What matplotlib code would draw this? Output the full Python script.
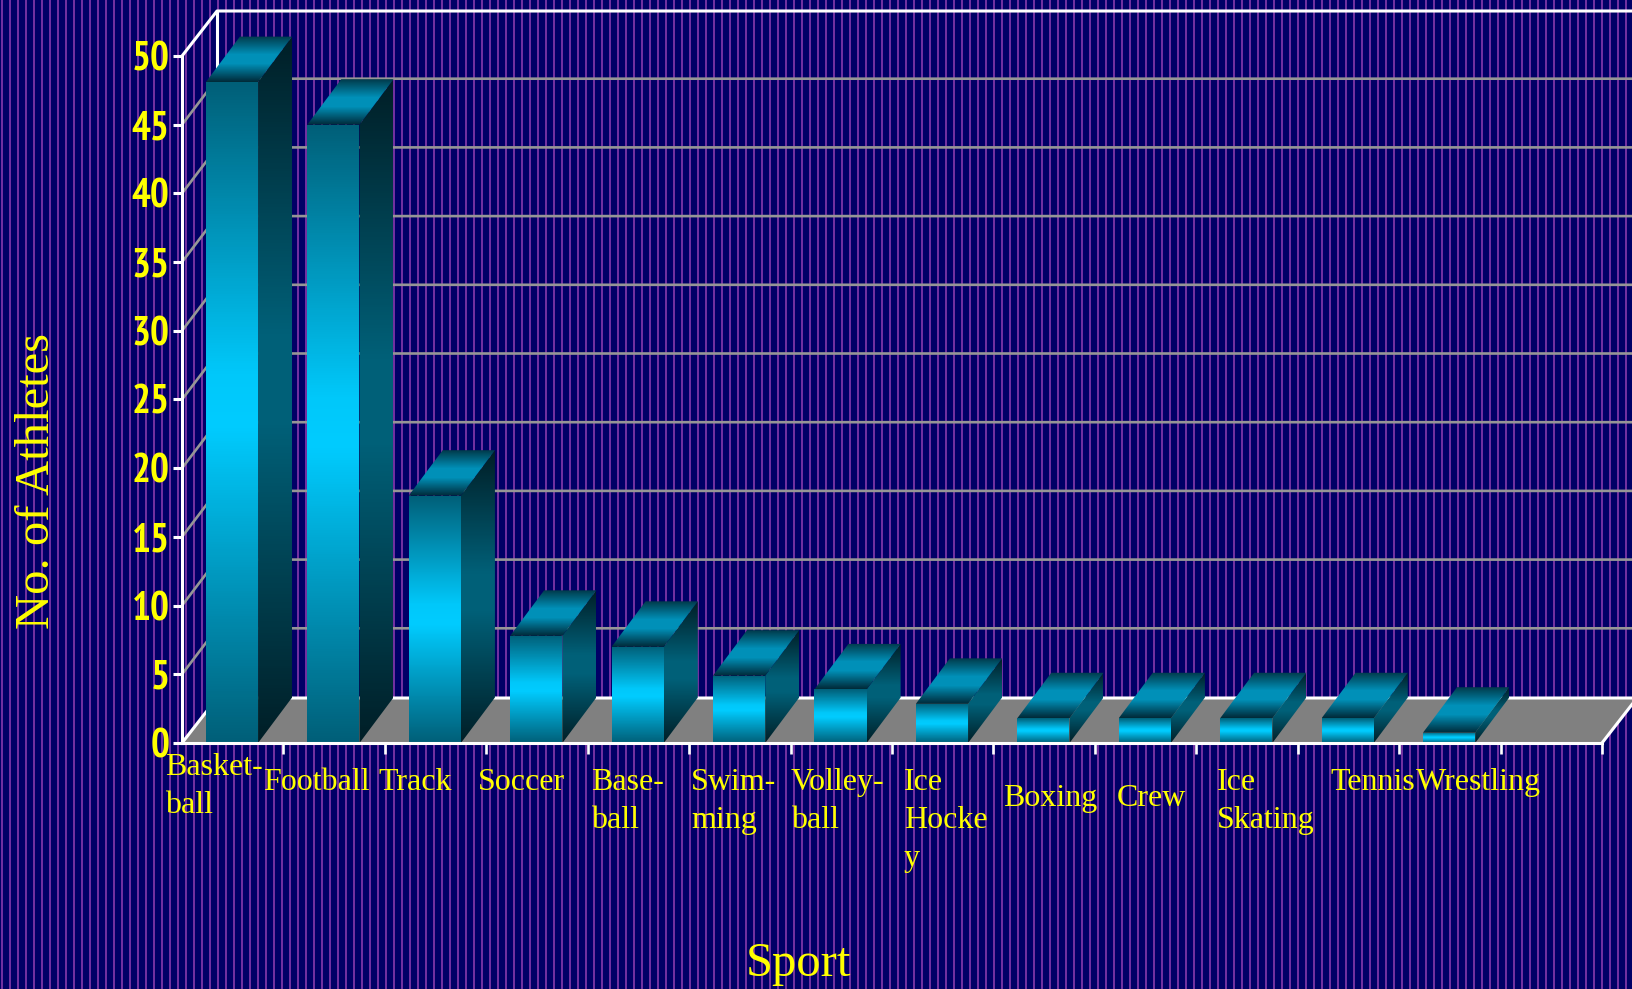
import numpy as np
import matplotlib
matplotlib.use('Agg')
import matplotlib.pyplot as plt
from matplotlib.colors import LinearSegmentedColormap
from matplotlib.patches import Polygon

W, H = 1633, 989

sports = ['Basket-\nball', 'Football', 'Track', 'Soccer', 'Base-\nball', 'Swim-\nming', 'Volley-\nball',
          'Ice\nHocke\ny', 'Boxing', 'Crew', 'Ice\nSkating', 'Tennis', 'Wrestling']
athletes = [48.1, 45.0, 18, 7.8, 7, 4.9, 3.9, 2.85, 1.8, 1.8, 1.8, 1.8, 0.75]
y_ticks = list(range(0, 55, 5))

# label placement, reference pixels (left edge, first baseline)
label_x = [165, 263, 378, 478, 591, 691, 791, 904, 1003, 1117, 1217, 1330, 1416]
label_y = [775, 790, 790, 790, 790, 790, 790, 790, 806, 806, 790, 790, 790]

plt.rcParams['font.family'] = ['Liberation Serif', 'DejaVu Serif']

fig = plt.figure(figsize=(W / 100, H / 100), dpi=100, facecolor='#000066')

# striped background
bg = fig.add_axes([0, 0, 1, 1], zorder=0)
bg.set_xlim(0, W)
bg.set_ylim(H, 0)
bg.axis('off')
bg.vlines(np.arange(2, W, 8), 0, H, color='#7030A0', lw=1.44, antialiased=False)

ax = fig.add_axes([182 / W, (H - 743) / H, 1420 / W, 687 / H], zorder=1)
ax.patch.set_alpha(0)
x_max = len(sports) + 1
ax.set_xlim(0, x_max)
ax.set_ylim(0, 50)

# depth of the fake 3D box in data units
px_x = x_max / 1420
px_y = 50 / 687
dx = 35 * px_x
dy = 45 * px_y
grid_dy = 46 * px_y

# floor
ax.add_patch(Polygon([(0, 0), (dx, dy), (x_max + dx, dy), (x_max, 0)], fc='#808080', ec='none',
                     clip_on=False, zorder=1))
# grid lines on side and back wall
for v in y_ticks[1:-1]:
    ax.plot([0, dx, x_max + dx], [v, v + grid_dy, v + grid_dy], color='#969696', lw=1.9, clip_on=False, zorder=0.5)

# white box edges
box = dict(color='white', lw=2.2, clip_on=False, zorder=1.5, solid_capstyle='butt')
ax.plot([0, dx, x_max + dx], [50, 50 + dy, 50 + dy], **box)
ax.plot([dx, dx], [dy, 50 + dy], **box)
ax.plot([0, dx, x_max + dx], [0, dy, dy], **box)
ax.plot([x_max, x_max + dx], [0, dy], **box)

front_cm = LinearSegmentedColormap.from_list('front', [(0, '#005F78'), (0.44, '#00C8FA'), (0.52, '#00CCFF'), (1, '#005F78')])
side_cm = LinearSegmentedColormap.from_list('side', [(0, '#001E26'), (0.42, '#006078'), (0.55, '#006078'), (1, '#001E26')])
top_cm = LinearSegmentedColormap.from_list('top', [(0, '#003A4A'), (0.4, '#0090B8'), (0.6, '#0090B8'), (1, '#002A38')])
grad = np.linspace(0, 1, 1024).reshape(-1, 1)


def shaded(points, cmap, z):
    xs = [p[0] for p in points]
    ys = [p[1] for p in points]
    im = ax.imshow(grad, cmap=cmap, aspect='auto', origin='upper', zorder=z,
                   extent=(min(xs), max(xs), min(ys), max(ys)), interpolation='nearest')
    clip = Polygon(points, fc='none', ec='none', clip_on=False, zorder=z)
    ax.add_patch(clip)
    im.set_clip_box(fig.bbox)
    im.set_clip_path(clip)


bar_w = 0.515
bar_dx = 34 * px_x
bar_dy = 45.5 * px_y
for i, val in enumerate(athletes):
    left = i + 0.235
    right = left + bar_w
    z = 2 + i * 0.01
    shaded([(left, 0), (right, 0), (right, val), (left, val)], front_cm, z)
    shaded([(right, 0), (right + bar_dx, bar_dy), (right + bar_dx, val + bar_dy), (right, val)], side_cm, z)
    shaded([(left, val), (right, val), (right + bar_dx, val + bar_dy), (left + bar_dx, val + bar_dy)], top_cm, z)

ax.set_xlim(0, x_max)
ax.set_ylim(0, 50)

for s in ['top', 'right']:
    ax.spines[s].set_visible(False)
for s in ['left', 'bottom']:
    ax.spines[s].set_color('white')
    ax.spines[s].set_linewidth(2.2)
    ax.spines[s].set_zorder(5)

ax.set_xticks(range(1, x_max + 1))
ax.set_xticklabels([])
ax.set_yticks(y_ticks)
ax.tick_params(axis='x', color='white', length=8, width=1.9, direction='out')
ax.tick_params(axis='y', color='white', length=6.5, width=2.2, direction='out', pad=2.5, labelcolor='#FFFF00')
for lab in ax.get_yticklabels():
    lab.set_fontfamily(['PT Sans Narrow', 'Liberation Sans'])
    lab.set_fontweight('bold')
    lab.set_fontsize(28.5)

for name, lx, ly in zip(sports, label_x, label_y):
    for k, line in enumerate(name.split('\n')):
        fig.text(lx / W, 1 - (ly + k * 38) / H, line, color='#FFFF00', fontsize=23, ha='left', va='baseline', zorder=3)

fig.text(798 / W, 1 - 976 / H, 'Sport', color='#FFFF00', fontsize=35, ha='center', va='baseline', zorder=3)
fig.text(37 / W, 1 - 481 / H, 'No. of Athletes', color='#FFFF00', fontsize=35, rotation=90, ha='center', va='center', zorder=3)

fig.savefig('out.png', dpi=100, facecolor=fig.get_facecolor())
